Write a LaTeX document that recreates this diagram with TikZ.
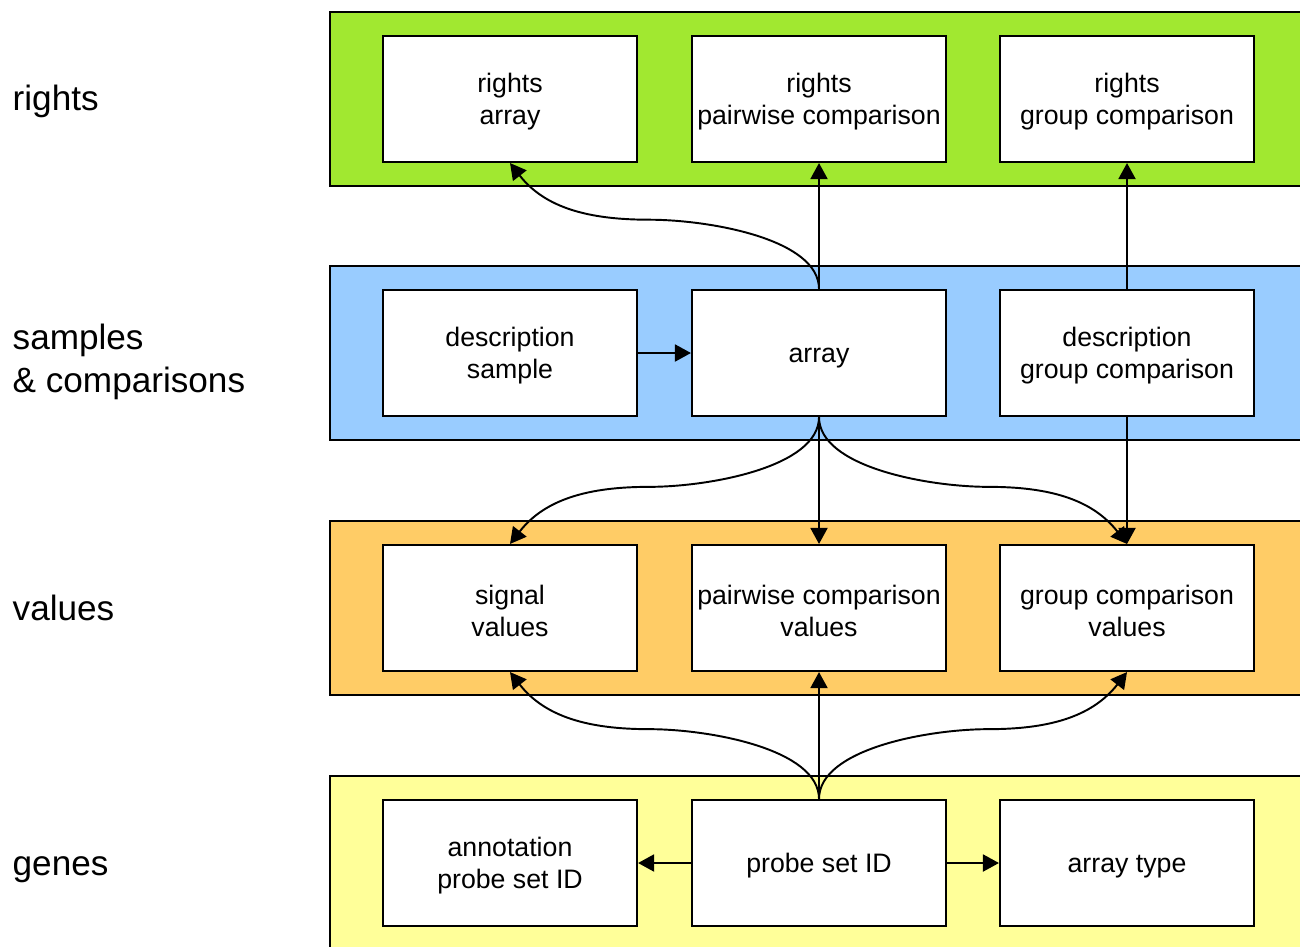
\documentclass[tikz,border=0pt]{standalone}
\usepackage{fontspec}
\setmainfont{Liberation Sans}
\usetikzlibrary{arrows.meta,calc}

\definecolor{rightsgreen}{RGB}{161,232,48}
\definecolor{sampleblue}{RGB}{153,204,255}
\definecolor{valueorange}{RGB}{255,204,102}
\definecolor{geneyellow}{RGB}{255,255,153}

\newcommand{\boxfont}{\fontsize{7.6}{9.1}\selectfont}
\newcommand{\layerfont}{\fontsize{10}{12.2}\selectfont}
\newcommand{\topstrut}{\rule{0pt}{7.2pt}}

\tikzset{
  box/.style={draw, fill=white, line width=0.6pt, minimum width=2.54cm,
              minimum height=1.26cm, inner sep=0pt, align=center, font=\boxfont},
  band/.style={draw, line width=0.6pt},
  layerlabel/.style={anchor=west, align=left, inner sep=0pt, font=\layerfont},
  arr/.style={-{Triangle[length=1.6mm,width=1.7mm]}, line width=0.55pt}
}

\begin{document}
\begin{tikzpicture}

\clip (0,0) rectangle (13,9.46);

\pgfmathsetmacro{\colA}{5.10}
\pgfmathsetmacro{\colB}{8.19}
\pgfmathsetmacro{\colC}{11.27}
\pgfmathsetmacro{\rowR}{8.47}
\pgfmathsetmacro{\rowS}{5.93}
\pgfmathsetmacro{\rowV}{3.38}
\pgfmathsetmacro{\rowG}{0.83}

% Layers:
\draw[band, fill=rightsgreen] (3.30,7.60) rectangle (13.5,9.34);
\draw[band, fill=sampleblue] (3.30,5.06) rectangle (13.5,6.80);
\draw[band, fill=valueorange] (3.30,2.51) rectangle (13.5,4.25);
\draw[band, fill=geneyellow] (3.30,-0.5) rectangle (13.5,1.70);

\node[layerlabel] (lrights) at (0.12,8.45) {rights};
\node[layerlabel] (lsamples) at (0.12,5.84) {samples\\\& comparisons};
\node[layerlabel] (lvalues) at (0.12,3.38) {values};
\node[layerlabel] (lgenes) at (0.12,0.76) {genes};

% Boxes:
\node[box] (rarray) at (\colA,\rowR) {\topstrut rights\\array};
\node[box] (rpair) at (\colB,\rowR) {\topstrut rights\\pairwise comparison};
\node[box] (rgroup) at (\colC,\rowR) {\topstrut rights\\group comparison};

\node[box] (dsample) at (\colA,\rowS) {\topstrut description\\sample};
\node[box] (array) at (\colB,\rowS) {\topstrut array};
\node[box] (dgroup) at (\colC,\rowS) {\topstrut description\\group comparison};

\node[box] (signal) at (\colA,\rowV) {\topstrut signal\\values};
\node[box] (pairval) at (\colB,\rowV) {\topstrut pairwise comparison\\values};
\node[box] (groupval) at (\colC,\rowV) {\topstrut group comparison\\values};

\node[box] (annot) at (\colA,\rowG) {\topstrut annotation\\probe set ID};
\node[box] (probe) at (\colB,\rowG) {\topstrut probe set ID};
\node[box] (atype) at (\colC,\rowG) {\topstrut array type};

% Arrows up to rights:
\draw[arr] (array.north) .. controls +(0,0.5) and +(0.6,0) .. ($(array.north)!0.55!(rarray.south)$)
        .. controls +(-0.6,0) and +(0.35,-0.45) .. (rarray.south);
\draw[arr] (array.north) -- (rpair.south);
\draw[arr] (dgroup.north) -- (rgroup.south);

\draw[arr] (dsample.east) -- (array.west);

% Arrows down to values:
\draw[arr] (array.south) .. controls +(0,-0.5) and +(0.6,0) .. ($(array.south)!0.55!(signal.north)$)
        .. controls +(-0.6,0) and +(0.35,0.45) .. (signal.north);
\draw[arr] (array.south) -- (pairval.north);
\draw[arr] (array.south) .. controls +(0,-0.5) and +(-0.6,0) .. ($(array.south)!0.55!(groupval.north)$)
        .. controls +(0.6,0) and +(-0.35,0.45) .. (groupval.north);
\draw[arr] (dgroup.south) -- (groupval.north);

% Arrows up from genes:
\draw[arr] (probe.north) .. controls +(0,0.5) and +(0.6,0) .. ($(probe.north)!0.55!(signal.south)$)
        .. controls +(-0.6,0) and +(0.35,-0.45) .. (signal.south);
\draw[arr] (probe.north) -- (pairval.south);
\draw[arr] (probe.north) .. controls +(0,0.5) and +(-0.6,0) .. ($(probe.north)!0.55!(groupval.south)$)
        .. controls +(0.6,0) and +(-0.35,-0.45) .. (groupval.south);

\draw[arr] (probe.west) -- (annot.east);
\draw[arr] (probe.east) -- (atype.west);

\end{tikzpicture}
\end{document}
